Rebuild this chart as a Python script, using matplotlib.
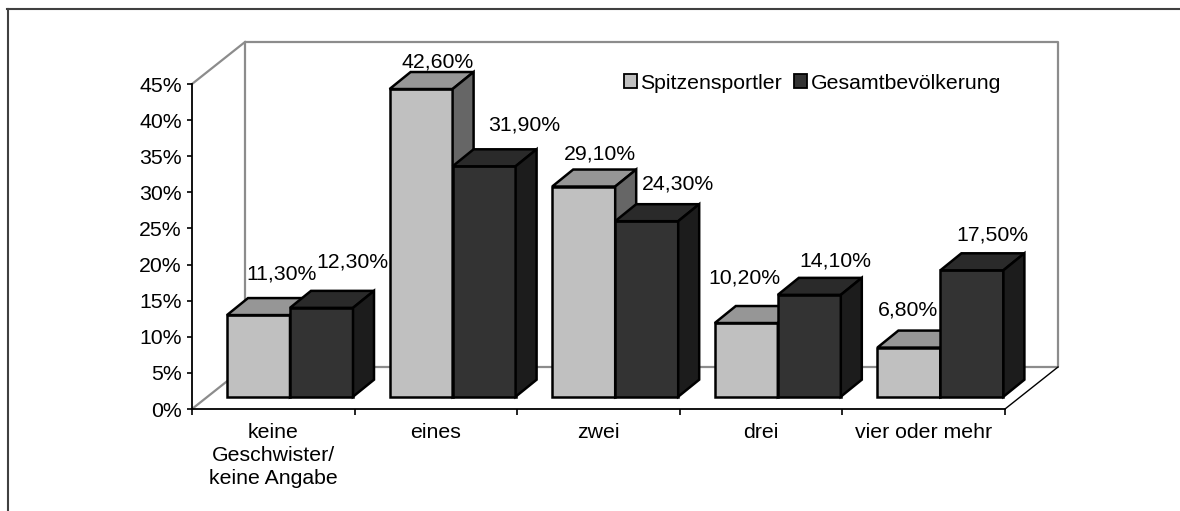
import numpy as np
import matplotlib
matplotlib.use("Agg")
import matplotlib.pyplot as plt
from matplotlib.patches import Polygon, Patch
from matplotlib.lines import Line2D
from matplotlib.ticker import FixedLocator, FuncFormatter

plt.rcParams['font.family'] = ['Liberation Sans', 'DejaVu Sans']

# ---------------------------------------------------------- data
categories = ['keine\nGeschwister/\nkeine Angabe', 'eines', 'zwei', 'drei', 'vier oder mehr']
series_names = ['Spitzensportler', 'Gesamtbevölkerung']
spitzensportler = [11.3, 42.6, 29.1, 10.2, 6.8]
gesamtbevoelkerung = [12.3, 31.9, 24.3, 14.1, 17.5]
yticks = [0, 5, 10, 15, 20, 25, 30, 35, 40, 45]

# ---------------------------------------------------------- layout (pixel based)
W, H = 1180, 511
CAT_PX, PCT_PX = 162.6, 7.22
BAR_DX, BAR_DY = 21 / CAT_PX, 17 / PCT_PX        # bar depth
FLOOR_DX, FLOOR_DY = 53 / CAT_PX, 42 / PCT_PX    # wall depth
BAR_BASE = 12.3 / PCT_PX
BAR_OFF, BAR_W = 35 / CAT_PX, 63 / CAT_PX
FS = 15.3

# data label placement like excel does it (pixel nudges from top of bar)
label_nudge = [[(2, 24), (-4, 10), (-5, 16), (-23, 28), (-22, 21)],
               [(10, 29), (19, 24), (10, 20), (5, 17), (0, 18)]]

styles = [dict(front='#c0c0c0', top='#969696', side='#666666'),
          dict(front='#333333', top='#2a2a2a', side='#1c1c1c')]

fig = plt.figure(figsize=(W / 100, H / 100), dpi=100)
ax = fig.add_axes([192 / W, (H - 409) / H, 813 / W, 325 / H])
ax.set_xlim(0, len(categories))
ax.set_ylim(0, 45)
ax.patch.set_alpha(0)

for s in ['top', 'right']:
    ax.spines[s].set_visible(False)
for s in ['left', 'bottom']:
    ax.spines[s].set_color('black')
    ax.spines[s].set_linewidth(1.3)

ax.yaxis.set_major_locator(FixedLocator(yticks))
ax.yaxis.set_major_formatter(FuncFormatter(lambda v, p: '%d%%' % v))
ax.tick_params(axis='y', length=3.6, width=1.2, pad=3.6, labelsize=FS)
ax.xaxis.set_major_locator(FixedLocator(np.arange(len(categories) + 1)))
ax.xaxis.set_major_formatter(FuncFormatter(lambda v, p: ''))
ax.xaxis.set_minor_locator(FixedLocator(np.arange(len(categories)) + 0.5))
ax.set_xticklabels(categories, minor=True, fontsize=FS, linespacing=1.27)
ax.tick_params(axis='x', which='major', length=4.3, width=1.2)
ax.tick_params(axis='x', which='minor', length=0, pad=10)

# ---------------------------------------------------------- walls
gray = '#8c8c8c'
n = len(categories)
wall = dict(color=gray, lw=1.6, clip_on=False, zorder=1)
ax.plot([FLOOR_DX, FLOOR_DX, n + FLOOR_DX, n + FLOOR_DX, FLOOR_DX],
        [FLOOR_DY, 45 + FLOOR_DY, 45 + FLOOR_DY, FLOOR_DY, FLOOR_DY], **wall)
ax.plot([0, FLOOR_DX], [45, 45 + FLOOR_DY], **wall)
ax.plot([0, FLOOR_DX], [0, FLOOR_DY], **wall)
ax.plot([n, n + FLOOR_DX], [0, FLOOR_DY], color='black', lw=1.0, clip_on=False, zorder=1)

# ---------------------------------------------------------- bars
def bar3d(x0, v, st, nudge):
    b, t = BAR_BASE, BAR_BASE + v
    x1 = x0 + BAR_W
    kw = dict(edgecolor='black', lw=1.8, joinstyle='miter', clip_on=False, zorder=3)
    ax.add_patch(Polygon([(x0, b), (x1, b), (x1, t), (x0, t)], facecolor=st['front'], **kw))
    ax.add_patch(Polygon([(x0, t), (x1, t), (x1 + BAR_DX, t + BAR_DY), (x0 + BAR_DX, t + BAR_DY)],
                         facecolor=st['top'], **kw))
    ax.add_patch(Polygon([(x1, b), (x1 + BAR_DX, b + BAR_DY), (x1 + BAR_DX, t + BAR_DY), (x1, t)],
                         facecolor=st['side'], **kw))
    ax.annotate(('%.2f' % v).replace('.', ',') + '%',
                (x0 + BAR_W / 2 + BAR_DX, t + BAR_DY),
                xytext=(nudge[0] * 0.72, nudge[1] * 0.72), textcoords='offset points',
                ha='center', va='center', fontsize=FS, zorder=5, annotation_clip=False)

for i in range(n):
    for j, vals in enumerate([spitzensportler, gesamtbevoelkerung]):
        bar3d(i + BAR_OFF + j * BAR_W, vals[i], styles[j], label_nudge[j][i])

# ---------------------------------------------------------- legend
handles = [Patch(facecolor=st['front'], edgecolor='black', lw=1.3) for st in styles]
fig.legend(handles, series_names, loc='center left', bbox_to_anchor=(624 / W, 1 - 83 / H),
           ncol=2, frameon=False, fontsize=FS, handlelength=0.6, handleheight=0.6,
           handletextpad=0.15, columnspacing=0.6, borderpad=0, borderaxespad=0)

# ---------------------------------------------------------- outer frame
fig.add_artist(Line2D([7 / W, 1], [1 - 9.5 / H, 1 - 9.5 / H], color='#404040', lw=1.5))
fig.add_artist(Line2D([8 / W, 8 / W], [0, 1 - 9.5 / H], color='#404040', lw=1.5))

fig.savefig('out.png', dpi=100)
